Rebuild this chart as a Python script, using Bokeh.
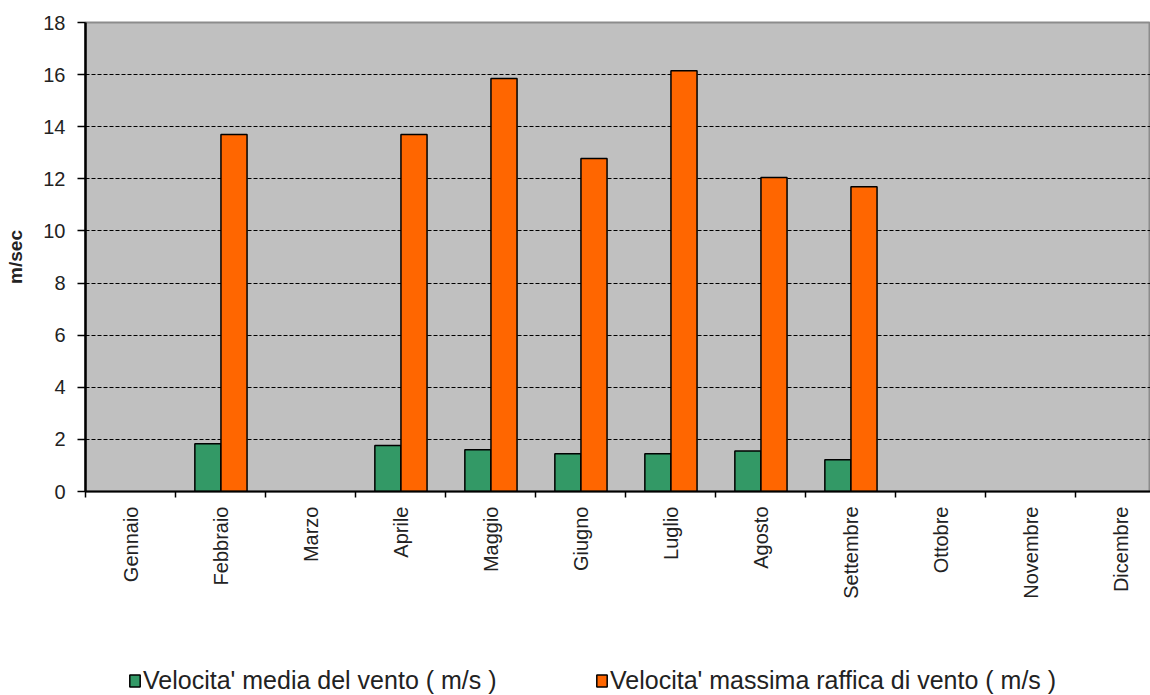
from bokeh.plotting import figure
from bokeh.layouts import column
from bokeh.models import Range1d, FixedTicker, Legend, LegendItem, ColumnDataSource
from bokeh.embed import file_html
from bokeh.resources import INLINE
import math

months = ["Gennaio", "Febbraio", "Marzo", "Aprile", "Maggio", "Giugno",
          "Luglio", "Agosto", "Settembre", "Ottobre", "Novembre", "Dicembre"]
media = [None, 1.83, None, 1.77, 1.60, 1.45, 1.45, 1.55, 1.22, None, None, None]
raffica = [None, 13.7, None, 13.7, 15.85, 12.78, 16.15, 12.05, 11.7, None, None, None]
y_ticks = [0, 2, 4, 6, 8, 10, 12, 14, 16, 18]
label_media = "Velocita' media del vento ( m/s )"
label_raffica = "Velocita' massima raffica di vento ( m/s )"

FONT = "Liberation Sans"
GREEN = "#339966"
ORANGE = "#FF6600"

centers = [i + 0.5 for i in range(len(months))]
bounds = [float(i) for i in range(len(months) + 1)]

src_m = ColumnDataSource(dict(x=[c - 0.14 for c, v in zip(centers, media) if v is not None],
                              top=[v for v in media if v is not None]))
src_r = ColumnDataSource(dict(x=[c + 0.15 for c, v in zip(centers, raffica) if v is not None],
                              top=[v for v in raffica if v is not None]))

p = figure(width=1150, height=640, output_backend="svg", toolbar_location=None,
           x_range=Range1d(0, 1065 / 90), y_range=Range1d(0, 18),
           min_border_left=85, min_border_right=0, min_border_top=22, min_border_bottom=149)
p.background_fill_color = "#C0C0C0"
p.border_fill_color = "white"
p.outline_line_color = "#8C8C8C"
p.outline_line_width = 2

p.vbar(x="x", top="top", width=0.29, bottom=0, source=src_m,
       fill_color=GREEN, line_color="black", line_width=1.5)
p.vbar(x="x", top="top", width=0.29, bottom=0, source=src_r,
       fill_color=ORANGE, line_color="black", line_width=1.5)

# x axis
p.xaxis.ticker = FixedTicker(ticks=centers, minor_ticks=bounds)
p.xaxis.major_label_overrides = {c: m for c, m in zip(centers, months)}
p.xaxis.major_label_orientation = math.pi / 2
p.xaxis.major_tick_out = 0
p.xaxis.major_tick_in = 0
p.xaxis.minor_tick_out = 6
p.xaxis.minor_tick_in = 0
p.xaxis.minor_tick_line_color = "black"
p.xaxis.minor_tick_line_width = 1.5
p.xaxis.axis_line_color = "black"
p.xaxis.axis_line_width = 2
p.xaxis.major_label_text_font = FONT
p.xaxis.major_label_text_font_size = "20px"
p.xaxis.major_label_text_color = "#222222"
p.xaxis.major_label_standoff = 9

# y axis
p.yaxis.ticker = FixedTicker(ticks=y_ticks)
p.yaxis.minor_tick_line_color = None
p.yaxis.major_tick_out = 8
p.yaxis.major_tick_in = 0
p.yaxis.major_tick_line_width = 1.5
p.yaxis.axis_line_color = "black"
p.yaxis.axis_line_width = 2.5
p.yaxis.major_label_text_font = FONT
p.yaxis.major_label_text_font_size = "20px"
p.yaxis.major_label_text_color = "#222222"
p.yaxis.major_label_standoff = 12
p.yaxis.axis_label = "m/sec"
p.yaxis.axis_label_text_font = FONT
p.yaxis.axis_label_text_font_size = "19px"
p.yaxis.axis_label_text_font_style = "bold"
p.yaxis.axis_label_text_color = "#222222"
p.yaxis.axis_label_standoff = 14

# grid
p.xgrid.grid_line_color = None
p.ygrid.ticker = FixedTicker(ticks=y_ticks[1:-1])
p.ygrid.grid_line_color = "black"
p.ygrid.grid_line_dash = "4 2"
p.ygrid.grid_line_width = 1.2

# legend strip below the chart (its frame aligns with the chart frame at x=85)
lf = figure(width=1150, height=55, output_backend="svg", toolbar_location=None,
            x_axis_type=None, y_axis_type=None, x_range=Range1d(0, 1), y_range=Range1d(0, 1),
            min_border=0)
lf.outline_line_color = None
lf.border_fill_color = "white"
lf.background_fill_color = "white"
lf.grid.visible = False
nan = float("nan")
dm = lf.vbar(x=[nan], top=[nan], bottom=nan, width=0.1, fill_color=GREEN, line_color="black", line_width=1.5)
dr = lf.vbar(x=[nan], top=[nan], bottom=nan, width=0.1, fill_color=ORANGE, line_color="black", line_width=1.5)
for r, lab, xloc in [(dm, label_media, 43), (dr, label_raffica, 510)]:
    lg = Legend(items=[LegendItem(label=lab, renderers=[r])], location=(xloc, 0),
                orientation="horizontal", background_fill_alpha=0, border_line_color=None,
                glyph_width=13, glyph_height=15, label_text_font=FONT,
                label_text_font_size="25px", label_text_color="#222222",
                label_standoff=2, padding=0, margin=0, label_height=15)
    lf.add_layout(lg)

layout = column(p, lf, spacing=0)
open("out.html", "w").write(file_html(layout, INLINE))
